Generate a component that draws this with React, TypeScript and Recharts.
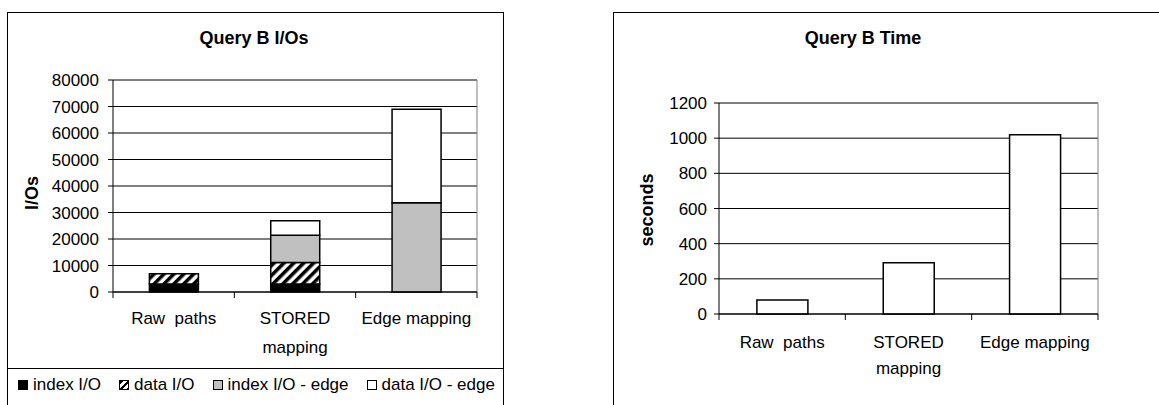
import { Bar, BarChart, CartesianGrid, XAxis, YAxis } from "recharts"

// Categories (x axis)
const categories = ["Raw  paths", "STORED mapping", "Edge mapping"]
const categoryLines: Record<string, string[]> = {
  "Raw  paths": ["Raw  paths"],
  "STORED mapping": ["STORED", "mapping"],
  "Edge mapping": ["Edge mapping"],
}

// Query B I/Os (stacked)
const indexIO = [3000, 3000, 0]
const dataIO = [3900, 8100, 0]
const indexIOEdge = [0, 10300, 33700]
const dataIOEdge = [0, 5500, 35300]
const ioTicks = [0, 10000, 20000, 30000, 40000, 50000, 60000, 70000, 80000]

// Query B Time
const seconds = [80, 291, 1019]
const timeTicks = [0, 200, 400, 600, 800, 1000, 1200]

const legendNames = ["index I/O", "data I/O", "index I/O - edge", "data I/O - edge"]

const ioData = categories.map((name, i) => ({
  name,
  indexIO: indexIO[i],
  dataIO: dataIO[i],
  indexIOEdge: indexIOEdge[i],
  dataIOEdge: dataIOEdge[i],
}))

const timeData = categories.map((name, i) => ({ name, seconds: seconds[i] }))

const FONT = '"Liberation Sans", Arial, sans-serif'
const BORDER_GRAY = "#808080"

function CategoryTick(props: any) {
  const { x, y, payload, bandWidth, firstOffset, lineGap } = props
  const lines = categoryLines[payload.value] ?? [payload.value]
  const isLast = payload.value === categories[categories.length - 1]
  return (
    <g>
      <line x1={x - bandWidth / 2} y1={y} x2={x - bandWidth / 2} y2={y + 6} stroke="#000" />
      {isLast && <line x1={x + bandWidth / 2} y1={y} x2={x + bandWidth / 2} y2={y + 6} stroke="#000" />}
      <text x={x} y={y + firstOffset} textAnchor="middle" fontSize={17} fill="#000" style={{ whiteSpace: "pre" }}>
        {lines.map((l, i) => (
          <tspan key={i} x={x} dy={i === 0 ? "0.355em" : lineGap}>
            {l}
          </tspan>
        ))}
      </text>
    </g>
  )
}

function PlotBorder() {
  // gray top + right plot-area edge, like the Excel plot frame
  return (
    <CartesianGrid
      stroke={BORDER_GRAY}
      horizontalCoordinatesGenerator={({ offset }: any) => [offset.top]}
      verticalCoordinatesGenerator={({ offset }: any) => [offset.left + offset.width]}
    />
  )
}

function IOChart() {
  const width = 503
  const margin = { top: 80, right: 26, bottom: 5, left: 53 }
  const bandWidth = (width - margin.left - 60 - margin.right) / categories.length
  return (
    <BarChart width={width} height={357} data={ioData} margin={margin} barCategoryGap="30%">
      <defs>
        <pattern id="hatch" width="7" height="7" patternUnits="userSpaceOnUse" patternTransform="rotate(45)">
          <rect x="0" y="0" width="7" height="7" fill="#fff" />
          <rect x="0" y="0" width="3.5" height="7" fill="#000" />
        </pattern>
      </defs>
      <CartesianGrid vertical={false} stroke="#000" />
      {PlotBorder()}
      <XAxis
        dataKey="name"
        interval={0}
        height={60}
        tickLine={false}
        tickSize={0}
        tickMargin={0}
        axisLine={{ stroke: "#000" }}
        tick={(p: any) => <CategoryTick {...p} bandWidth={bandWidth} firstOffset={26} lineGap={28.5} />}
      />
      <YAxis
        type="number"
        width={60}
        domain={[0, 80000]}
        ticks={ioTicks}
        interval={0}
        tickSize={5}
        tickMargin={9}
        axisLine={{ stroke: "#000" }}
        tickLine={{ stroke: "#000" }}
        tick={{ fill: "#000", fontSize: 17 }}
      />
      <Bar dataKey="indexIO" stackId="io" fill="#000" stroke="#000" strokeWidth={1.5} isAnimationActive={false} />
      <Bar dataKey="dataIO" stackId="io" fill="url(#hatch)" stroke="#000" strokeWidth={1.5} isAnimationActive={false} />
      <Bar dataKey="indexIOEdge" stackId="io" fill="#c0c0c0" stroke="#000" strokeWidth={1.5} isAnimationActive={false} />
      <Bar dataKey="dataIOEdge" stackId="io" fill="#fff" stroke="#000" strokeWidth={1.5} isAnimationActive={false} />
    </BarChart>
  )
}

function TimeChart() {
  const width = 546
  const margin = { top: 103, right: 61, bottom: 5, left: 46 }
  const bandWidth = (width - margin.left - 60 - margin.right) / categories.length
  return (
    <BarChart width={width} height={379} data={timeData} margin={margin} barCategoryGap="30%">
      <CartesianGrid vertical={false} stroke="#000" />
      {PlotBorder()}
      <XAxis
        dataKey="name"
        interval={0}
        height={60}
        tickLine={false}
        tickSize={0}
        tickMargin={0}
        axisLine={{ stroke: "#000" }}
        tick={(p: any) => <CategoryTick {...p} bandWidth={bandWidth} firstOffset={27.7} lineGap={26.7} />}
      />
      <YAxis
        type="number"
        width={60}
        domain={[0, 1200]}
        ticks={timeTicks}
        interval={0}
        tickSize={5}
        tickMargin={7}
        axisLine={{ stroke: "#000" }}
        tickLine={{ stroke: "#000" }}
        tick={{ fill: "#000", fontSize: 17 }}
      />
      <Bar dataKey="seconds" fill="#fff" stroke="#000" strokeWidth={1.5} isAnimationActive={false} />
    </BarChart>
  )
}

const legendKeys = [
  { background: "#000" },
  { background: "repeating-linear-gradient(135deg, #000 0 2.5px, #fff 2.5px 5px)" },
  { background: "#c0c0c0" },
  { background: "#fff" },
]

function abs(left: number, top: number, extra: React.CSSProperties = {}): React.CSSProperties {
  return { position: "absolute", left, top, ...extra }
}

const boldLabel: React.CSSProperties = { fontWeight: "bold", fontSize: 18, whiteSpace: "nowrap", lineHeight: "20px" }

export default function App() {
  return (
    <div
      style={{
        position: "absolute",
        left: 0,
        top: 0,
        width: 1159,
        height: 405,
        overflow: "hidden",
        background: "#fff",
        fontFamily: FONT,
        color: "#000",
      }}
    >
      {/* chart frames */}
      <div style={abs(7, 12, { width: 497, height: 420, border: "1px solid #000", boxSizing: "border-box" })} />
      <div style={abs(7, 368, { width: 497, height: 1, background: "#000" })} />
      <div style={abs(613, 12, { width: 600, height: 420, border: "1px solid #000", boxSizing: "border-box" })} />

      <div style={abs(0, 0)}>
        <IOChart />
      </div>
      <div style={abs(613, 0)}>
        <TimeChart />
      </div>

      {/* titles and axis names */}
      <div style={abs(254, 38, { transform: "translate(-50%, -50%)", ...boldLabel })}>Query B I/Os</div>
      <div style={abs(863, 38, { transform: "translate(-50%, -50%)", ...boldLabel })}>Query B Time</div>
      <div style={abs(32, 193, { transform: "translate(-50%, -50%) rotate(-90deg)", ...boldLabel })}>I/Os</div>
      <div style={abs(647, 210, { transform: "translate(-50%, -50%) rotate(-90deg)", ...boldLabel })}>seconds</div>

      {/* legend */}
      <div style={abs(18, 376, { display: "flex", alignItems: "center", height: 18, gap: 18, fontSize: 17, whiteSpace: "nowrap" })}>
        {legendNames.map((name, i) => (
          <div key={name} style={{ display: "flex", alignItems: "center" }}>
            <span
              style={{
                display: "inline-block",
                width: 10,
                height: 10,
                border: "1px solid #000",
                boxSizing: "border-box",
                marginRight: 5,
                ...legendKeys[i],
              }}
            />
            <span style={{ lineHeight: "18px" }}>{name}</span>
          </div>
        ))}
      </div>
    </div>
  )
}
